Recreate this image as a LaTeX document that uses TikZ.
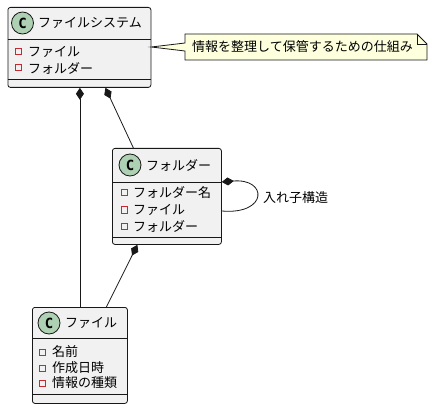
\documentclass[tikz,border=0pt]{standalone}
\usepackage{fontspec}
\setmainfont{Noto Sans CJK JP}
\newfontfamily\cfont{DejaVu Sans Mono Bold}
\usetikzlibrary{arrows.meta,calc}
\definecolor{boxfill}{HTML}{F1F1F1}
\definecolor{boxline}{HTML}{181818}
\definecolor{circfill}{HTML}{ADD1B2}
\definecolor{attrred}{HTML}{C82930}
\definecolor{notefill}{HTML}{FEFFDD}
\tikzset{
  classbox/.style={draw=boxline, fill=boxfill, line width=0.8pt, rounded corners=2.5pt, inner sep=0pt, anchor=north west},
  sepline/.style={draw=boxline, line width=0.8pt},
  cicon/.style={circle, draw=boxline, fill=circfill, line width=0.8pt, minimum size=22pt, inner sep=0pt, font=\cfont\fontsize{14}{14}\selectfont},
  ctitle/.style={anchor=west, inner sep=0pt, font=\fontsize{13}{13}\selectfont},
  attr/.style={anchor=west, inner sep=0pt, font=\fontsize{13}{13}\selectfont},
  aicon/.style={draw=attrred, line width=1pt, minimum size=6pt, inner sep=0pt},
  comp/.style={draw=boxline, line width=0.8pt, {Diamond[length=12pt,width=8pt,fill=boxline]}-},
  plain/.style={draw=boxline, line width=0.8pt},
  lbl/.style={anchor=west, inner sep=0pt, font=\fontsize{13}{13}\selectfont},
}
\begin{document}
\begin{tikzpicture}[x=1pt,y=-1pt]
\useasboundingbox (0,0) rectangle (434,409);

% --- ファイルシステム ---
\node[classbox, minimum width=143pt, minimum height=80pt] (fs) at (7.5,7) {};
\draw[sepline] ([yshift=-32pt]fs.north west) -- ([yshift=-32pt]fs.north east);
\draw[sepline] ([yshift=8pt]fs.south west) -- ([yshift=8pt]fs.south east);
\node[cicon] (fsc) at (22.5,23) {C};
\node[ctitle] (fst) at (38,23) {ファイルシステム};
\node[aicon] (fsa1) at (18,52) {};
\node[attr] (fsa1t) at (28,52) {ファイル};
\node[aicon] (fsa2) at (18,68) {};
\node[attr] (fsa2t) at (28,68) {フォルダー};

% --- フォルダー ---
\node[classbox, minimum width=109pt, minimum height=96pt] (fld) at (112,148) {};
\draw[sepline] ([yshift=-34pt]fld.north west) -- ([yshift=-34pt]fld.north east);
\draw[sepline] ([yshift=7pt]fld.south west) -- ([yshift=7pt]fld.south east);
\node[cicon] (fldc) at (130,165) {C};
\node[ctitle] (fldt) at (146,165) {フォルダー};
\node[aicon] (flda1) at (124,193) {};
\node[attr] (flda1t) at (133,193) {フォルダー名};
\node[aicon] (flda2) at (124,210) {};
\node[attr] (flda2t) at (133,210) {ファイル};
\node[aicon] (flda3) at (124,226) {};
\node[attr] (flda3t) at (133,226) {フォルダー};

% --- ファイル ---
\node[classbox, minimum width=95pt, minimum height=96pt] (file) at (32,307) {};
\draw[sepline] ([yshift=-31pt]file.north west) -- ([yshift=-31pt]file.north east);
\draw[sepline] ([yshift=9pt]file.south west) -- ([yshift=9pt]file.south east);
\node[cicon] (filec) at (49,323) {C};
\node[ctitle] (filet) at (65,323) {ファイル};
\node[aicon] (filea1) at (42,352) {};
\node[attr] (filea1t) at (52,352) {名前};
\node[aicon] (filea2) at (42,368) {};
\node[attr] (filea2t) at (52,368) {作成日時};
\node[aicon] (filea3) at (42,383) {};
\node[attr] (filea3t) at (52,383) {情報の種類};

% --- connectors ---
\draw[comp] ([xshift=0.5pt]fs.south) -- ([xshift=0pt]file.north);
\draw[comp] ([xshift=26pt]fs.south) -- ([xshift=-33.5pt]fld.north);
\draw[comp] ([xshift=-29.5pt]fld.south) -- ([xshift=26.5pt]file.north);
\draw[comp] ([yshift=-34pt]fld.north east) .. controls (268,178) and (268,215) .. ([yshift=-63pt]fld.north east);
\node[lbl] (loopl) at (263,198) {入れ子構造};

% --- note ---
\coordinate (n1) at (185,34);
\coordinate (n2) at (417,34);
\coordinate (n3) at (427,44);
\coordinate (n4) at (427,60);
\coordinate (n5) at (185,60);
\coordinate (n6) at (185,51);
\coordinate (ntip) at ([yshift=-40pt]fs.north east);
\coordinate (n7) at (185,43);
\draw[plain, fill=notefill] (n1) -- (n2) -- (n3) -- (n4) -- (n5) -- (n6) -- (ntip) -- (n7) -- cycle;
\draw[plain] (n2) -- (417,44) -- (n3);
\node[lbl] (notet) at (192,47) {情報を整理して保管するための仕組み};
\end{tikzpicture}
\end{document}
